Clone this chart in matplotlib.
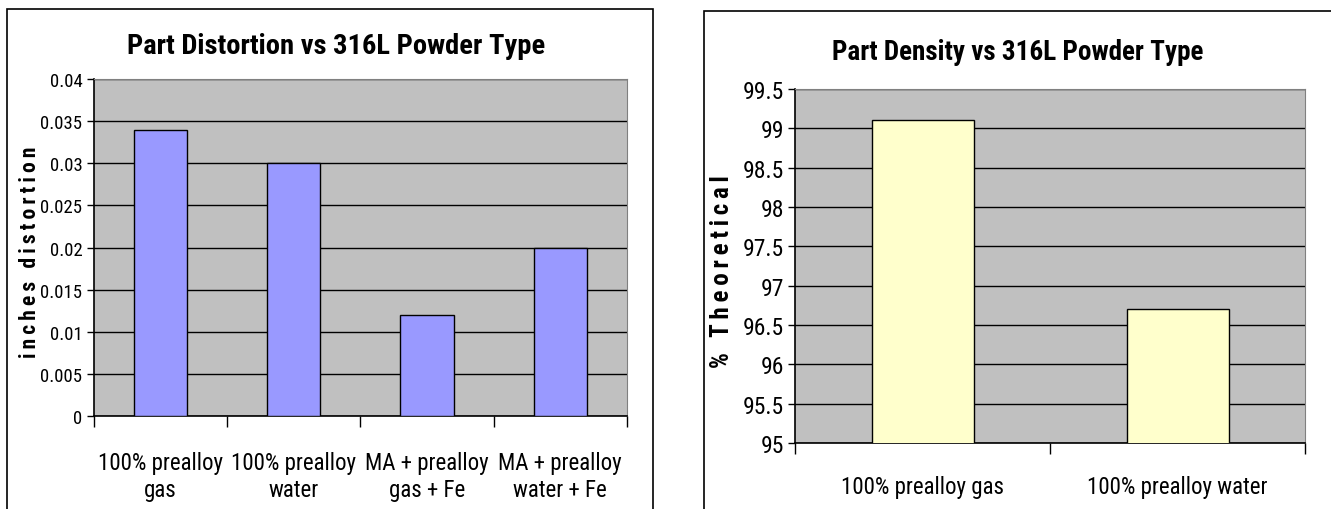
import matplotlib
matplotlib.use("Agg")
import matplotlib.pyplot as plt
from matplotlib.patches import Rectangle

# ------------------ data ------------------
dist_labels = ["100% prealloy\ngas", "100% prealloy\nwater", "MA + prealloy\ngas + Fe", "MA + prealloy\nwater + Fe"]
dist_values = [0.034, 0.030, 0.012, 0.020]
dist_ticks = [0, 0.005, 0.01, 0.015, 0.02, 0.025, 0.03, 0.035, 0.04]
dist_tick_labels = ["0", "0.005", "0.01", "0.015", "0.02", "0.025", "0.03", "0.035", "0.04"]

dens_labels = ["100% prealloy gas", "100% prealloy water"]
dens_values = [99.1, 96.7]
dens_ticks = [95, 95.5, 96, 96.5, 97, 97.5, 98, 98.5, 99, 99.5]
dens_tick_labels = ["95", "95.5", "96", "96.5", "97", "97.5", "98", "98.5", "99", "99.5"]

NARROW = ["Roboto Condensed", "Archivo Narrow", "Liberation Sans", "DejaVu Sans"]
NARROW_BOLD = ["Roboto Condensed", "PT Sans Narrow", "Liberation Sans", "DejaVu Sans"]
W, H = 1331, 510

fig = plt.figure(figsize=(W / 100, H / 100), dpi=100)
fig.patch.set_facecolor("white")


def px_axes(x0, y0, x1, y1):
    # axes from pixel box (top-left origin)
    return fig.add_axes([x0 / W, (H - y1) / H, (x1 - x0) / W, (y1 - y0) / H])


def chart_border(x0, y0, x1, y1):
    fig.patches.append(Rectangle((x0 / W, (H - y1) / H), (x1 - x0) / W, (y1 - y0) / H,
                                 transform=fig.transFigure, fill=False,
                                 edgecolor="black", linewidth=1.2, zorder=0))


def style_axes(ax, n, ticks, tick_labels, ylim, ytick_size, cat_labels, cat_pad):
    ax.set_facecolor("#C0C0C0")
    ax.set_xlim(-0.5, n - 0.5)
    ax.set_ylim(*ylim)
    ax.set_yticks(ticks)
    ax.set_yticklabels(tick_labels, family=NARROW, fontsize=ytick_size)
    ax.yaxis.grid(True, color="black", linewidth=1.0)
    ax.set_axisbelow(True)
    ax.tick_params(axis="y", length=5, width=1, pad=3, direction="out")
    ax.set_xticks(range(n))
    ax.set_xticklabels(cat_labels, family=NARROW, fontsize=16.5, linespacing=1.25)
    ax.tick_params(axis="x", which="major", length=0, pad=cat_pad)
    ax.set_xticks([i - 0.5 for i in range(n + 1)], minor=True)
    ax.tick_params(axis="x", which="minor", length=8, width=1, direction="out")
    for side in ("top", "right"):
        ax.spines[side].set_color("#808080")
    for side in ("left", "bottom"):
        ax.spines[side].set_color("black")
        ax.spines[side].set_linewidth(1.2)


def spaced(s):
    return "\u2009".join(s)


# ------------------ distortion chart ------------------
chart_border(7, 10, 653, 530)
ax1 = px_axes(93.5, 80, 627, 417)
ax1.bar(range(len(dist_values)), dist_values, width=0.4, color="#9999FF",
        edgecolor="black", linewidth=1.0, zorder=3)
style_axes(ax1, len(dist_values), dist_ticks, dist_tick_labels, (0, 0.04), 13.5,
           dist_labels, 25)
fig.text(336 / W, 1 - 47 / H, "Part Distortion vs 316L Powder Type",
         family=NARROW_BOLD, fontweight="bold", fontsize=20.5, ha="center", va="center")
fig.text(30 / W, 1 - 252 / H, spaced("inches distortion"), family=NARROW_BOLD + ["DejaVu Sans"],
         fontweight="bold", fontsize=15.5, rotation=90, ha="center", va="center")

# ------------------ density chart ------------------
chart_border(704, 12, 1345, 530)
ax2 = px_axes(795, 90, 1305, 444)
ax2.bar(range(len(dens_values)), dens_values, width=0.4, color="#FFFFCC",
        edgecolor="black", linewidth=1.0, zorder=3)
style_axes(ax2, len(dens_values), dens_ticks, dens_tick_labels, (95, 99.5), 17,
           dens_labels, 23)
fig.text(1018 / W, 1 - 53 / H, "Part Density vs 316L Powder Type",
         family=NARROW_BOLD, fontweight="bold", fontsize=19.5, ha="center", va="center")
fig.text(722 / W, 1 - 272 / H, spaced("% Theoretical"), family=NARROW_BOLD + ["DejaVu Sans"],
         fontweight="bold", fontsize=18, rotation=90, ha="center", va="center")

fig.savefig("out.png", dpi=100)
